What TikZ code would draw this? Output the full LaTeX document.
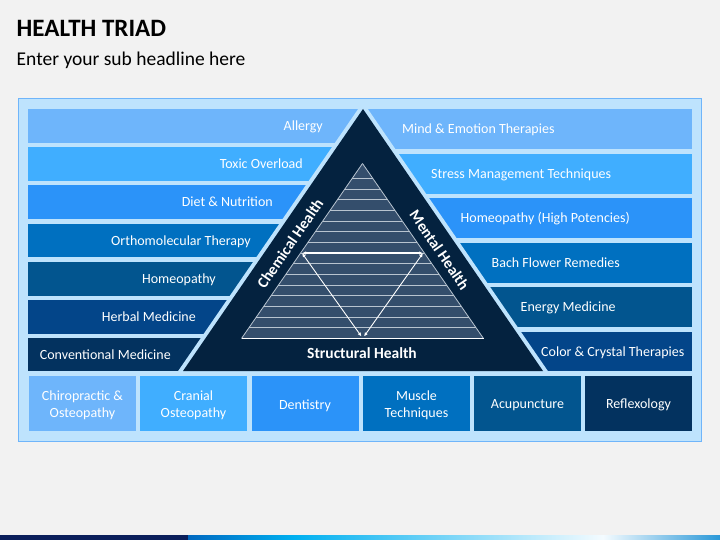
\documentclass[tikz,border=0pt]{standalone}
\usepackage{fontspec}
\setmainfont{Carlito}
\usetikzlibrary{arrows.meta}
\definecolor{bg}{HTML}{F2F2F2}
\definecolor{panel}{HTML}{BEE3FD}
\definecolor{panelborder}{HTML}{6FB5FA}
\definecolor{cA}{HTML}{6EB5FB}
\definecolor{cB}{HTML}{40AEFF}
\definecolor{cC}{HTML}{2B93F9}
\definecolor{cD}{HTML}{0070C0}
\definecolor{cE}{HTML}{02558F}
\definecolor{cF}{HTML}{034589}
\definecolor{cG}{HTML}{03325F}
\definecolor{tri}{HTML}{04223F}
\definecolor{innertri}{HTML}{344E6C}
\definecolor{hl}{HTML}{B8C4D0}
\definecolor{navy}{HTML}{0B1F5B}
\definecolor{sA}{HTML}{0068C0}
\definecolor{sB}{HTML}{00B0F0}
\definecolor{sC}{HTML}{F4FBFF}
\definecolor{sD}{HTML}{2A98D8}
\pgfdeclarehorizontalshading{stripshade}{100bp}{color(0bp)=(sA); color(25bp)=(sA); color(35bp)=(sB); color(64bp)=(sC); color(75bp)=(sD); color(100bp)=(sD)}
\tikzset{
  bartext/.style={text=white, inner sep=0pt, yshift=-2.5pt, font=\fontsize{14}{16}\selectfont},
  boxnode/.style={text=white, inner sep=0pt, minimum width=107pt, minimum height=55pt, align=center, font=\fontsize{14}{17}\selectfont},
  boxlabel/.style={text=white, inner sep=0pt, align=center, yshift=-1.8pt, font=\fontsize{14}{17}\selectfont},
  lab/.style={text=white, inner sep=0pt, font=\fontsize{15.5}{18}\selectfont\bfseries},
  hline/.style={draw=hl, line width=0.7pt},
  arr/.style={draw=white, line width=0.9pt, {Latex[length=4pt,width=3.5pt]}-{Latex[length=4pt,width=3.5pt]}}
}
\begin{document}
\begin{tikzpicture}[x=1pt,y=-1pt]
\useasboundingbox (0,0) rectangle (720,540);
\fill[bg] (0,0) rectangle (720,540);
% title
\node[anchor=base west, inner sep=0pt, font=\fontsize{25}{30}\selectfont\bfseries] (title) at (16.5,36.7) {HEALTH TRIAD};
\node[anchor=base west, inner sep=0pt, font=\fontsize{19.5}{23}\selectfont] (subtitle) at (16.5,65.7) {Enter your sub headline here};
% panel
\draw[panelborder, fill=panel, line width=1pt] (18.5,98.5) rectangle (701.5,441.5);
% left bars
\foreach \t/\b/\c in {109/143/cA,147/181/cB,185/219/cC,224/257/cD,262/296/cE,300/334/cF,338/371/cG}
  \fill[\c] (28,\t) rectangle (363,\b);
% right bars
\foreach \t/\b/\c in {109/149/cA,154/194/cB,198/238/cC,243/283/cD,287/327/cE,332/371/cF}
  \fill[\c] (363,\t) rectangle (692,\b);
% triangle
\coordinate (T) at (363,109);
\coordinate (TL) at (183,371);
\coordinate (TR) at (543,371);
\draw[panel, line width=8pt] (T) -- (TL) -- (TR) -- cycle;
\fill[tri] (T) -- (TL) -- (TR) -- cycle;
% inner triangle
\coordinate (I) at (362.5,163.5);
\coordinate (IL) at (241.5,338.5);
\coordinate (IR) at (483.5,338.5);
\fill[innertri] (I) -- (IL) -- (IR) -- cycle;
\foreach \k in {1,...,15}{
  \pgfmathsetmacro\yy{338.5-10.67*\k}
  \pgfmathsetmacro\hw{0.69143*(\yy-163.5)}
  \draw[hline] ({362.5-\hw},\yy) -- ({362.5+\hw},\yy);
}
\draw[draw=hl, line width=0.8pt] (I) -- (IL);
\draw[draw=hl, line width=0.8pt] (I) -- (IR);
\draw[draw=white, line width=1pt] (IL) -- (IR);
% arrows
\coordinate (aL) at (302,253.1);
\coordinate (aR) at (423,253.1);
\coordinate (bL) at (361.5,336.5);
\coordinate (bR) at (364,336.5);
\draw[arr, line width=1.4pt] (aL) -- (aR);
\draw[arr] (aL) -- (bL);
\draw[arr] (aR) -- (bR);
% triangle labels
\node[lab, rotate=55.5] (chem) at (290,243.5) {Chemical Health};
\node[lab, rotate=-55.5] (ment) at (439.5,250) {Mental Health};
\node[lab] (struct) at (362,353.3) {Structural Health};
% left texts
\node[bartext, anchor=mid east] (l1) at (323,126) {Allergy};
\node[bartext, anchor=mid east] (l2) at (303,164) {Toxic Overload};
\node[bartext, anchor=mid east] (l3) at (273,202) {Diet \& Nutrition};
\node[bartext, anchor=mid east] (l4) at (251,240.5) {Orthomolecular Therapy};
\node[bartext, anchor=mid east] (l5) at (216,279) {Homeopathy};
\node[bartext, anchor=mid east] (l6) at (196,317) {Herbal Medicine};
\node[bartext, anchor=mid east] (l7) at (171,354.5) {Conventional Medicine};
% right texts
\node[bartext, anchor=mid west] (r1) at (402,129) {Mind \& Emotion Therapies};
\node[bartext, anchor=mid west] (r2) at (431,174) {Stress Management Techniques};
\node[bartext, anchor=mid west] (r3) at (460.5,218) {Homeopathy (High Potencies)};
\node[bartext, anchor=mid west] (r4) at (491.5,263) {Bach Flower Remedies};
\node[bartext, anchor=mid west] (r5) at (520.5,307) {Energy Medicine};
\node[bartext, anchor=mid west] (r6) at (541,351.5) {Color \& Crystal Therapies};
% bottom boxes
\node[boxnode, fill=cA] (b1) at (82.5,403.5) {};
\node[boxnode, fill=cB] (b2) at (193.5,403.5) {};
\node[boxnode, fill=cC] (b3) at (305,403.5) {};
\node[boxnode, fill=cD] (b4) at (416.5,403.5) {};
\node[boxnode, fill=cE] (b5) at (527.5,403.5) {};
\node[boxnode, fill=cG] (b6) at (638.5,403.5) {};
\node[boxlabel] (t1) at (b1) {Chiropractic \&\\Osteopathy};
\node[boxlabel] (t2) at (b2) {Cranial\\Osteopathy};
\node[boxlabel] (t3) at (b3) {Dentistry};
\node[boxlabel] (t4) at (b4) {Muscle\\Techniques};
\node[boxlabel] (t5) at (b5) {Acupuncture};
\node[boxlabel] (t6) at (b6) {Reflexology};
% bottom strip
\fill[navy] (0,535) rectangle (188,540);
\shade[shading=stripshade] (188,535) rectangle (720,540);
\end{tikzpicture}
\end{document}
